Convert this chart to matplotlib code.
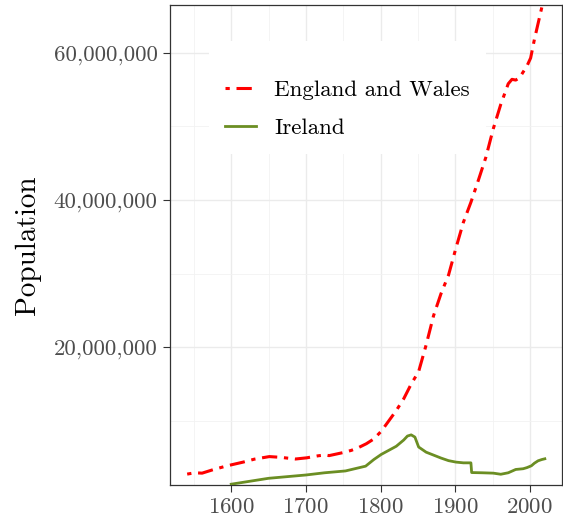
import matplotlib
matplotlib.use("Agg")
import matplotlib.pyplot as plt
from matplotlib.ticker import FuncFormatter, MultipleLocator

plt.rcParams['font.family'] = ['cmr10', 'DejaVu Serif']
plt.rcParams['axes.formatter.use_mathtext'] = True

# England and Wales (millions)
ew_years = [1541, 1551, 1561, 1576, 1591, 1601, 1616, 1631, 1651, 1666, 1686,
            1701, 1716, 1726, 1731, 1741, 1751, 1761, 1771, 1781, 1791, 1801,
            1811, 1821, 1831, 1841, 1851, 1861, 1871, 1881, 1891, 1901, 1911,
            1921, 1931, 1941, 1951, 1961, 1971, 1976, 1981, 1986, 1991, 1996,
            2001, 2006, 2011, 2016, 2021]
ew_pop = [2.77, 2.95, 2.90, 3.38, 3.80, 4.05, 4.40, 4.80, 5.15, 5.05, 4.82,
          4.98, 5.25, 5.38, 5.28, 5.50, 5.72, 6.00, 6.40, 6.90, 7.55, 8.60,
          10.0, 11.4, 13.0, 15.0, 16.7, 20.3, 24.3, 27.3, 29.8, 33.5, 37.0,
          39.7, 42.7, 45.8, 49.7, 53.0, 55.8, 56.4, 56.3, 56.6, 57.4, 58.2,
          59.3, 61.8, 64.0, 66.2, 67.8]

# Ireland (millions)
ie_years = [1600, 1650, 1700, 1725, 1753, 1780, 1791, 1801, 1811, 1821, 1831,
            1836, 1841, 1846, 1851, 1861, 1871, 1881, 1891, 1901, 1911, 1921,
            1922, 1936, 1951, 1961, 1971, 1981, 1986, 1991, 1996, 2002, 2006,
            2011, 2016, 2020]
ie_pop = [1.40, 2.20, 2.65, 2.95, 3.20, 3.85, 4.75, 5.45, 6.00, 6.55, 7.40,
          7.94, 8.10, 7.80, 6.45, 5.75, 5.35, 4.95, 4.60, 4.40, 4.30, 4.30,
          2.98, 2.95, 2.90, 2.75, 2.95, 3.40, 3.45, 3.50, 3.65, 3.90, 4.25,
          4.58, 4.75, 4.85]

fig = plt.figure(figsize=(5.63, 5.23), dpi=100)
ax = fig.add_axes([170 / 563, 38 / 523, 392 / 563, 480 / 523])

ax.plot(ew_years, [v * 1e6 for v in ew_pop], color='#FF0000', lw=2.2,
        dashes=(1.4, 2.2, 5.0, 2.2), label='England and Wales', zorder=3)
ax.plot(ie_years, [v * 1e6 for v in ie_pop], color='#6B8E23', lw=2.0,
        label='Ireland', zorder=3)

ax.set_xlim(1518, 2043)
ax.set_ylim(1.29e6, 66.5e6)

ax.xaxis.set_major_locator(MultipleLocator(100))
ax.xaxis.set_minor_locator(MultipleLocator(50))
ax.yaxis.set_major_locator(MultipleLocator(20e6))
ax.yaxis.set_minor_locator(MultipleLocator(10e6))
ax.yaxis.set_major_formatter(FuncFormatter(lambda v, p: f'{int(v):,}'))

ax.grid(which='major', color='#EBEBEB', lw=1.0, zorder=0)
ax.grid(which='minor', color='#F2F2F2', lw=0.6, zorder=0)
ax.set_axisbelow(True)

for s in ax.spines.values():
    s.set_color('#333333')
    s.set_linewidth(0.9)

ax.tick_params(which='major', length=5, width=0.8, color='#333333',
               labelcolor='#4D4D4D', labelsize=16.5, pad=4)
ax.tick_params(which='minor', length=0)

ax.set_ylabel('Population', fontsize=21, color='black', labelpad=9)

leg = ax.legend(loc='upper left', bbox_to_anchor=(0.0995, 0.925), fontsize=16.5,
                title=' ', title_fontsize=3.5,
                frameon=True, fancybox=False, framealpha=1, facecolor='white',
                edgecolor='none', handlelength=1.35, handletextpad=0.79,
                borderpad=0.7, labelspacing=0.81, borderaxespad=0)

fig.savefig('out.png', dpi=100)
